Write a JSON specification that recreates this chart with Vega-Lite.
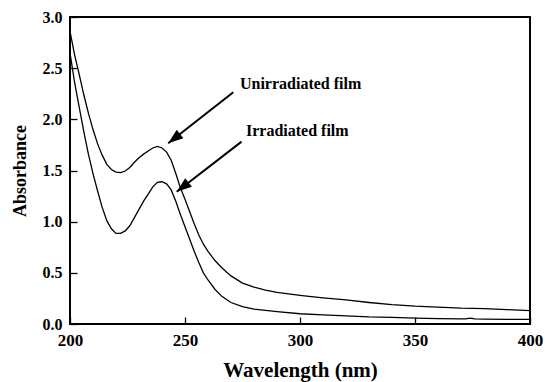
{
  "$schema": "https://vega.github.io/schema/vega-lite/v6.json",
  "autosize": "none",
  "width": 460,
  "height": 307,
  "padding": {"left": 70, "top": 17, "right": 15, "bottom": 58},
  "background": "white",
  "config": {
    "view": {"stroke": "black", "strokeWidth": 2},
    "font": "Liberation Serif",
    "axis": {"ticks": true, "tickColor": "black", "tickWidth": 1.3, "tickOpacity": 1}
  },
  "datasets": {
    "spectra": [
      {"film": "Unirradiated film", "wl": 200, "abs": 2.86},
      {"film": "Unirradiated film", "wl": 202, "abs": 2.63},
      {"film": "Unirradiated film", "wl": 204, "abs": 2.44},
      {"film": "Unirradiated film", "wl": 206, "abs": 2.24},
      {"film": "Unirradiated film", "wl": 208, "abs": 2.06},
      {"film": "Unirradiated film", "wl": 210, "abs": 1.90},
      {"film": "Unirradiated film", "wl": 212, "abs": 1.76},
      {"film": "Unirradiated film", "wl": 214, "abs": 1.65},
      {"film": "Unirradiated film", "wl": 216, "abs": 1.56},
      {"film": "Unirradiated film", "wl": 218, "abs": 1.51},
      {"film": "Unirradiated film", "wl": 220, "abs": 1.485},
      {"film": "Unirradiated film", "wl": 222, "abs": 1.48},
      {"film": "Unirradiated film", "wl": 224, "abs": 1.495},
      {"film": "Unirradiated film", "wl": 226, "abs": 1.53},
      {"film": "Unirradiated film", "wl": 228, "abs": 1.58},
      {"film": "Unirradiated film", "wl": 230, "abs": 1.625},
      {"film": "Unirradiated film", "wl": 232, "abs": 1.66},
      {"film": "Unirradiated film", "wl": 234, "abs": 1.69},
      {"film": "Unirradiated film", "wl": 236, "abs": 1.72},
      {"film": "Unirradiated film", "wl": 238, "abs": 1.735},
      {"film": "Unirradiated film", "wl": 240, "abs": 1.72},
      {"film": "Unirradiated film", "wl": 242, "abs": 1.68},
      {"film": "Unirradiated film", "wl": 244, "abs": 1.60},
      {"film": "Unirradiated film", "wl": 246, "abs": 1.47},
      {"film": "Unirradiated film", "wl": 248, "abs": 1.33},
      {"film": "Unirradiated film", "wl": 250, "abs": 1.22},
      {"film": "Unirradiated film", "wl": 252, "abs": 1.10},
      {"film": "Unirradiated film", "wl": 254, "abs": 0.98},
      {"film": "Unirradiated film", "wl": 256, "abs": 0.87},
      {"film": "Unirradiated film", "wl": 258, "abs": 0.78},
      {"film": "Unirradiated film", "wl": 260, "abs": 0.71},
      {"film": "Unirradiated film", "wl": 263, "abs": 0.62},
      {"film": "Unirradiated film", "wl": 266, "abs": 0.55},
      {"film": "Unirradiated film", "wl": 270, "abs": 0.47},
      {"film": "Unirradiated film", "wl": 275, "abs": 0.40},
      {"film": "Unirradiated film", "wl": 280, "abs": 0.36},
      {"film": "Unirradiated film", "wl": 285, "abs": 0.33},
      {"film": "Unirradiated film", "wl": 290, "abs": 0.31},
      {"film": "Unirradiated film", "wl": 300, "abs": 0.28},
      {"film": "Unirradiated film", "wl": 310, "abs": 0.255},
      {"film": "Unirradiated film", "wl": 320, "abs": 0.235},
      {"film": "Unirradiated film", "wl": 330, "abs": 0.21},
      {"film": "Unirradiated film", "wl": 340, "abs": 0.19},
      {"film": "Unirradiated film", "wl": 350, "abs": 0.175},
      {"film": "Unirradiated film", "wl": 360, "abs": 0.165},
      {"film": "Unirradiated film", "wl": 370, "abs": 0.155},
      {"film": "Unirradiated film", "wl": 380, "abs": 0.15},
      {"film": "Unirradiated film", "wl": 390, "abs": 0.14},
      {"film": "Unirradiated film", "wl": 400, "abs": 0.13},
      {"film": "Irradiated film", "wl": 200, "abs": 2.65},
      {"film": "Irradiated film", "wl": 202, "abs": 2.36},
      {"film": "Irradiated film", "wl": 204, "abs": 2.12},
      {"film": "Irradiated film", "wl": 206, "abs": 1.88},
      {"film": "Irradiated film", "wl": 208, "abs": 1.66},
      {"film": "Irradiated film", "wl": 210, "abs": 1.47},
      {"film": "Irradiated film", "wl": 212, "abs": 1.30},
      {"film": "Irradiated film", "wl": 214, "abs": 1.14},
      {"film": "Irradiated film", "wl": 216, "abs": 1.01},
      {"film": "Irradiated film", "wl": 218, "abs": 0.93},
      {"film": "Irradiated film", "wl": 220, "abs": 0.885},
      {"film": "Irradiated film", "wl": 222, "abs": 0.885},
      {"film": "Irradiated film", "wl": 224, "abs": 0.91},
      {"film": "Irradiated film", "wl": 226, "abs": 0.96},
      {"film": "Irradiated film", "wl": 228, "abs": 1.04},
      {"film": "Irradiated film", "wl": 230, "abs": 1.12},
      {"film": "Irradiated film", "wl": 232, "abs": 1.20},
      {"film": "Irradiated film", "wl": 234, "abs": 1.27},
      {"film": "Irradiated film", "wl": 236, "abs": 1.34},
      {"film": "Irradiated film", "wl": 238, "abs": 1.385},
      {"film": "Irradiated film", "wl": 240, "abs": 1.39},
      {"film": "Irradiated film", "wl": 242, "abs": 1.37},
      {"film": "Irradiated film", "wl": 244, "abs": 1.31},
      {"film": "Irradiated film", "wl": 246, "abs": 1.20},
      {"film": "Irradiated film", "wl": 248, "abs": 1.07},
      {"film": "Irradiated film", "wl": 250, "abs": 0.95},
      {"film": "Irradiated film", "wl": 252, "abs": 0.83},
      {"film": "Irradiated film", "wl": 254, "abs": 0.71},
      {"film": "Irradiated film", "wl": 256, "abs": 0.60},
      {"film": "Irradiated film", "wl": 258, "abs": 0.50},
      {"film": "Irradiated film", "wl": 260, "abs": 0.43},
      {"film": "Irradiated film", "wl": 263, "abs": 0.34},
      {"film": "Irradiated film", "wl": 266, "abs": 0.27},
      {"film": "Irradiated film", "wl": 270, "abs": 0.21},
      {"film": "Irradiated film", "wl": 275, "abs": 0.17},
      {"film": "Irradiated film", "wl": 280, "abs": 0.145},
      {"film": "Irradiated film", "wl": 290, "abs": 0.12},
      {"film": "Irradiated film", "wl": 300, "abs": 0.10},
      {"film": "Irradiated film", "wl": 310, "abs": 0.09},
      {"film": "Irradiated film", "wl": 320, "abs": 0.08},
      {"film": "Irradiated film", "wl": 330, "abs": 0.07},
      {"film": "Irradiated film", "wl": 340, "abs": 0.065},
      {"film": "Irradiated film", "wl": 350, "abs": 0.058},
      {"film": "Irradiated film", "wl": 360, "abs": 0.053},
      {"film": "Irradiated film", "wl": 370, "abs": 0.05},
      {"film": "Irradiated film", "wl": 372, "abs": 0.05},
      {"film": "Irradiated film", "wl": 374, "abs": 0.058},
      {"film": "Irradiated film", "wl": 376, "abs": 0.05},
      {"film": "Irradiated film", "wl": 380, "abs": 0.048},
      {"film": "Irradiated film", "wl": 390, "abs": 0.046},
      {"film": "Irradiated film", "wl": 400, "abs": 0.045}
    ],
    "notes": [
      {"label": "Unirradiated film", "tx": 273.9, "ty": 2.346, "x1": 271.0, "y1": 2.265, "x2": 242.7, "y2": 1.766, "ang": 232},
      {"label": "Irradiated film", "tx": 276.5, "ty": 1.887, "x1": 274.6, "y1": 1.782, "x2": 246.4, "y2": 1.293, "ang": 232}
    ]
  },
  "layer": [
    {
      "data": {"name": "spectra"},
      "mark": {"type": "line", "color": "black", "strokeWidth": 1.3, "clip": true},
      "encoding": {
        "x": {
          "field": "wl", "type": "quantitative",
          "scale": {"domain": [200, 400], "nice": false, "zero": false},
          "axis": {
            "title": "Wavelength (nm)", "values": [200, 250, 300, 350, 400],
            "grid": false, "domain": false, "tickSize": -7,
            "labelFont": "Liberation Serif", "labelFontWeight": "bold", "labelFontSize": 17, "labelColor": "black",
            "labelPadding": 15, "labelFlush": false,
            "titleFont": "Liberation Serif", "titleFontWeight": "bold", "titleFontSize": 21, "titleColor": "black",
            "titlePadding": 11
          }
        },
        "y": {
          "field": "abs", "type": "quantitative",
          "scale": {"domain": [0, 3], "nice": false},
          "axis": {
            "title": "Absorbance", "values": [0, 0.5, 1, 1.5, 2, 2.5, 3], "format": ".1f",
            "grid": false, "domain": false, "tickSize": -7,
            "labelFont": "Liberation Serif", "labelFontWeight": "bold", "labelFontSize": 16, "labelColor": "black",
            "labelPadding": 15, "labelFlush": false,
            "titleFont": "Liberation Serif", "titleFontWeight": "bold", "titleFontSize": 18, "titleColor": "black",
            "titlePadding": 13
          }
        },
        "detail": {"field": "film", "type": "nominal"}
      }
    },
    {
      "data": {"name": "notes"},
      "mark": {"type": "rule", "color": "black", "strokeWidth": 2},
      "encoding": {
        "x": {"field": "x1", "type": "quantitative"},
        "y": {"field": "y1", "type": "quantitative"},
        "x2": {"field": "x2"},
        "y2": {"field": "y2"}
      }
    },
    {
      "data": {"name": "notes"},
      "mark": {"type": "point", "shape": "M0,0L-0.36,1L0.36,1Z", "filled": true, "color": "black", "opacity": 1, "size": 900},
      "encoding": {
        "x": {"field": "x2", "type": "quantitative"},
        "y": {"field": "y2", "type": "quantitative"},
        "angle": {"field": "ang", "type": "quantitative", "scale": null}
      }
    },
    {
      "data": {"name": "notes"},
      "mark": {"type": "text", "align": "left", "baseline": "middle", "font": "Liberation Serif", "fontWeight": "bold", "fontSize": 16, "color": "black"},
      "encoding": {
        "x": {"field": "tx", "type": "quantitative"},
        "y": {"field": "ty", "type": "quantitative"},
        "text": {"field": "label"}
      }
    }
  ]
}
